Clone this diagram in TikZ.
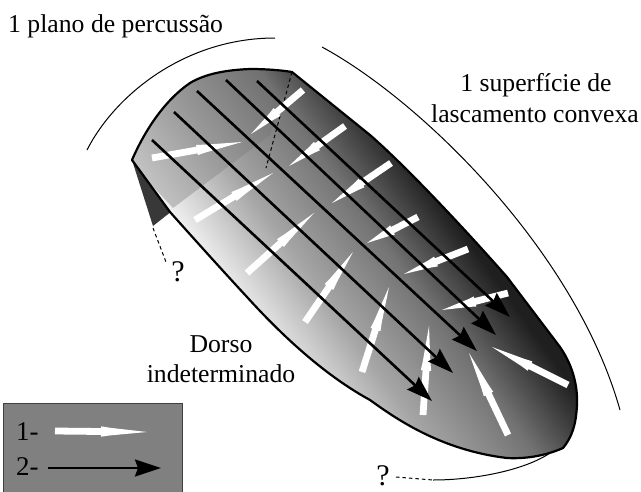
\documentclass[tikz,border=0pt]{standalone}
\usepackage{fontspec}
\setmainfont{Liberation Serif}
\usetikzlibrary{calc,arrows.meta}
\pgfdeclareverticalshading{mainshade}{100bp}{color(0bp)=(white);color(42.7bp)=(white);color(48.3bp)=(white!65!black);color(53.3bp)=(white!45!black);color(57.7bp)=(white!12!black);color(100bp)=(white!12!black)}
\pgfdeclareverticalshading{uppershade}{100bp}{color(0bp)=(white!76!black);color(43.6bp)=(white!76!black);color(48.3bp)=(white!59!black);color(53.3bp)=(white!44!black);color(54.8bp)=(white!29!black);color(100bp)=(white!29!black)}
\newcommand{\outlinepath}{(132,160) .. controls (145,130) and (165,100) .. (190,83) .. controls (205,74) and (225,70) .. (250,69) .. controls (265,69) and (280,70) .. (292,72) -- (370,135) .. controls (410,170) and (470,235) .. (507,277) -- (557,343) .. controls (572,362) and (578,385) .. (577,405) .. controls (576,425) and (572,437) .. (563,448) .. controls (545,456) and (525,459) .. (507,458) .. controls (440,450) and (395,418) .. (370,400) .. controls (315,370) and (268,320) .. (247,297) .. controls (222,270) and (195,240) .. (170,212) -- cycle}
\newcommand{\whitearrow}[2]{%
  \fill[white] ($(#1)!3.4pt!90:(#2)$) -- ($($(#1)!0.5!(#2)$)!3.4pt!90:(#2)$) -- ($($(#1)!0.5!(#2)$)!5.2pt!90:(#2)$) -- ($($(#1)!0.6!(#2)$)!3.8pt!90:(#2)$) -- (#2) -- ($($(#1)!0.6!(#2)$)!3.8pt!-90:(#2)$) -- ($($(#1)!0.5!(#2)$)!5.2pt!-90:(#2)$) -- ($($(#1)!0.5!(#2)$)!3.4pt!-90:(#2)$) -- ($(#1)!3.4pt!-90:(#2)$) -- cycle;}
\tikzset{
  blackarrow/.style={line width=2.6pt,-{Stealth[length=26pt,width=17pt,inset=3pt]}},
  thinline/.style={line width=1pt},
  dashline/.style={line width=1pt,dash pattern=on 3.5pt off 3pt},
  label/.style={font=\fontsize{25.7}{28}\selectfont,inner sep=0pt,anchor=base},
  qlabel/.style={font=\fontsize{30}{32}\selectfont,inner sep=0pt,anchor=base},
  legendlabel/.style={font=\fontsize{27}{29}\selectfont,inner sep=0pt,anchor=base west,text=black}
}
\begin{document}
\begin{tikzpicture}[x=1pt,y=-1pt]
\useasboundingbox (0,0) rectangle (641,491);
% wedge
\fill[black!78] (132,160) -- (153,226) -- (172,211) -- cycle;
% body
\begin{scope}
  \clip \outlinepath;
  \shade[shading=mainshade,shading angle=-54.4] (-80,-155) rectangle (720,645);
  \clip (110,140) -- (173,208) -- (270,135) -- (292,72) -- (280,40) -- (110,40) -- cycle;
  \shade[shading=uppershade,shading angle=-54.4] (-80,-155) rectangle (720,645);
\end{scope}
% dashed
\draw[dashline] (292,72) -- (266,168);
\draw[dashline] (153,228) -- (166,262);
\draw[dashline] (396,477) -- (433,480);
% white arrows
\whitearrow{152,158}{242,142}
\whitearrow{303,90}{251,134}
\whitearrow{345,126}{289,166}
\whitearrow{391,163}{332,203}
\whitearrow{418,217}{367,243}
\whitearrow{468,249}{404,274}
\whitearrow{508,293}{442,310}
\whitearrow{195,220}{273,173}
\whitearrow{247,273}{314,213}
\whitearrow{305,322}{353,252}
\whitearrow{362,372}{389,287}
\whitearrow{423,415}{429,326}
\whitearrow{508,435}{469,353}
\whitearrow{568,385}{492,347}
% black arrows
\coordinate (s1) at (152,140); \coordinate (t1) at (432,401);
\coordinate (s2) at (174,112); \coordinate (t2) at (453,373);
\coordinate (s3) at (197,91);  \coordinate (t3) at (477,351);
\coordinate (s4) at (226,80);  \coordinate (t4) at (496,335);
\coordinate (s5) at (257,81);  \coordinate (t5) at (510,317);
\foreach \i in {1,...,5} \draw[blackarrow] (s\i) -- (t\i);
% outline
\draw[line width=2.2pt,line join=round] \outlinepath;
% arcs
\draw[thinline] (87,150) .. controls (115,95) and (185,38) .. (275,38);
\draw[thinline] (322,47) .. controls (420,100) and (575,250) .. (620,410);
\draw[thinline] (433,480) .. controls (475,480) and (525,470) .. (550,453);
% texts
\node[label,anchor=base west] (t-plano) at (8,32) {1 plano de percussão};
\node[label] (t-sup) at (536,91) {1 superfície de};
\node[label] (t-las) at (535,122) {lascamento convexa};
\node[label] (t-dor) at (221,352) {Dorso};
\node[label] (t-ind) at (221,382) {indeterminado};
\node[qlabel] (q1) at (178,281) {?};
\node[qlabel] (q2) at (383,485) {?};
% legend
\draw[fill=black!50,draw=black!75,line width=1pt] (3.5,403.5) rectangle (182,495);
\node[legendlabel] (l1) at (16,440) {1-};
\node[legendlabel] (l2) at (16,475) {2-};
\coordinate (w1) at (55,431); \coordinate (w2) at (147,432);
\whitearrow{w1}{w2}
\coordinate (b1) at (48,468); \coordinate (b2) at (161,468);
\draw[blackarrow] (b1) -- (b2);
\end{tikzpicture}
\end{document}
